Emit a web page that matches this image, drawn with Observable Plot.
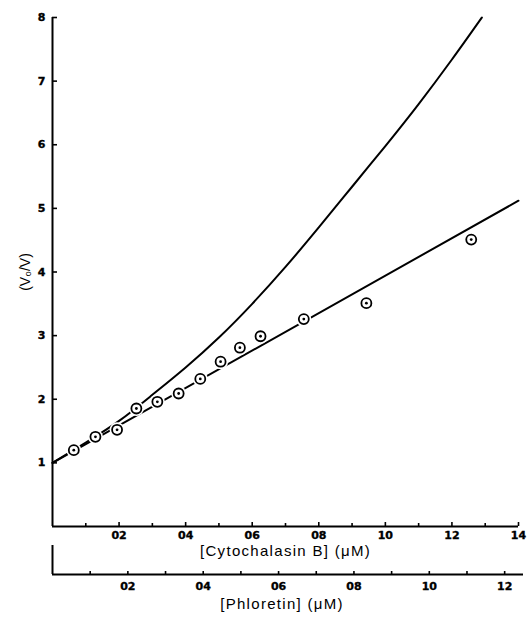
<!DOCTYPE html>
<html><head><meta charset="utf-8">
<script src="https://cdn.jsdelivr.net/npm/d3@7"></script>
<script src="https://cdn.jsdelivr.net/npm/@observablehq/plot@0.6"></script>
<style>
body{margin:0;background:#fff;}
#wrap{position:relative;width:529px;height:624px;background:#fff;}
#wrap svg{position:absolute;left:0;}
</style></head><body><div id="wrap"></div>
<script>
// Data points: [Cytochalasin B] (µM) vs Vo/V
const cytoConc = [0.064, 0.129, 0.194, 0.252, 0.315, 0.379, 0.444, 0.505, 0.563, 0.625, 0.755, 0.943, 1.258];
const ratio    = [1.20, 1.41, 1.52, 1.855, 1.96, 2.09, 2.32, 2.59, 2.81, 2.99, 3.26, 3.51, 4.51];
// Straight fitted line
const lineConc  = [0, 1.4];
const lineRatio = [1.0, 5.12];
// Upper curve
const curveConc  = [0, 0.1, 0.2, 0.3, 0.4, 0.5, 0.6, 0.7, 0.8, 0.9, 1.0, 1.1, 1.2, 1.29];
const curveRatio = [1.0, 1.32, 1.66, 2.07, 2.5, 2.97, 3.5, 4.08, 4.7, 5.34, 5.98, 6.64, 7.34, 8.0];
// Axes
const yTicks = [1, 2, 3, 4, 5, 6, 7, 8];
const cytoMajor  = [0.2, 0.4, 0.6, 0.8, 1.0, 1.2, 1.4];
const cytoLabels = ["02", "04", "06", "08", "10", "12", "14"];
const cytoMinor  = [0.1, 0.3, 0.5, 0.7, 0.9, 1.1, 1.3];
const phlMajor   = [0.2, 0.4, 0.6, 0.8, 1.0, 1.2];
const phlLabels  = ["02", "04", "06", "08", "10", "12"];
const phlMinor   = [0.1, 0.3, 0.5, 0.7, 0.9, 1.1];
const yLabel = "(V\u2080/V)";
const cytoTitle = "[Cytochalasin B] (\u03bcM)";
const phlTitle = "[Phloretin] (\u03bcM)";

const points = cytoConc.map((x, i) => ({x, y: ratio[i]}));
const line = lineConc.map((x, i) => ({x, y: lineRatio[i]}));
const curve = curveConc.map((x, i) => ({x, y: curveRatio[i]}));

const ink = "#000";
const font = "Liberation Sans, Arial, Helvetica, sans-serif";
const tickStyle = {fontFamily: "DejaVu Sans, Liberation Sans, sans-serif", fontSize: 11, fontWeight: "bold", fill: ink, stroke: ink, strokeWidth: 0.35};

const main = Plot.plot({
  width: 529, height: 560,
  marginTop: 17, marginBottom: 34, marginLeft: 52, marginRight: 11,
  x: {domain: [0, 1.4], label: null},
  y: {domain: [0, 8], label: null},
  style: {fontFamily: font, color: ink, background: "transparent"},
  marks: [
    Plot.line(curve, {x: "x", y: "y", curve: "natural", stroke: ink, strokeWidth: 2}),
    Plot.line(line, {x: "x", y: "y", stroke: ink, strokeWidth: 2}),
    Plot.dot(points, {x: "x", y: "y", r: 7.5, fill: "white", stroke: "none"}),
    Plot.dot(points, {x: "x", y: "y", r: 5, fill: "white", stroke: ink, strokeWidth: 1.8}),
    Plot.dot(points, {x: "x", y: "y", r: 1.4, fill: ink, stroke: "none"}),
    Plot.ruleX([0], {stroke: ink, strokeWidth: 2}),
    Plot.ruleY([0], {stroke: ink, strokeWidth: 2}),
    Plot.axisY({ticks: yTicks, tickSize: -5, tickPadding: 12, text: null, strokeWidth: 1.6, label: null}),
    Plot.axisY({ticks: yTicks, tickSize: 0, tickPadding: 7, tickFormat: d => String(d), label: null, ...tickStyle, strokeWidth: 0.35}),
    Plot.axisX({ticks: cytoMajor, tickFormat: () => "", tickSize: -4, strokeWidth: 1.6, label: null}),
    Plot.axisX({ticks: cytoMajor, tickFormat: d => cytoLabels[cytoMajor.indexOf(d)], tickSize: 0, tickPadding: 5, label: null, ...tickStyle}),
    Plot.axisX({ticks: cytoMinor, tickFormat: () => "", tickSize: -3, strokeWidth: 1.6, label: null}),
    Plot.text([yLabel], {text: d => d, frameAnchor: "left", dx: -27, rotate: -90, textAnchor: "middle", lineAnchor: "middle", fontSize: 14, fill: ink}),
    Plot.text([cytoTitle], {text: d => d, frameAnchor: "bottom", dy: 25, textAnchor: "middle", lineAnchor: "middle", fontSize: 15, fill: ink})
  ]
});
main.style.top = "0px";

const second = Plot.plot({
  width: 529, height: 84,
  marginTop: 5, marginBottom: 50, marginLeft: 52, marginRight: 6,
  x: {domain: [0, 1.25], label: null},
  y: {domain: [0, 1], axis: null},
  style: {fontFamily: font, color: ink, background: "transparent"},
  marks: [
    Plot.ruleY([0], {stroke: ink, strokeWidth: 2}),
    Plot.ruleX([0], {y1: 0, y2: 1, stroke: ink, strokeWidth: 2}),
    Plot.axisX({ticks: phlMajor, tickFormat: () => "", tickSize: -3, strokeWidth: 1.6, label: null}),
    Plot.axisX({ticks: phlMajor, tickFormat: d => phlLabels[phlMajor.indexOf(d)], tickSize: 0, tickPadding: 8, label: null, ...tickStyle}),
    Plot.axisX({ticks: phlMinor, tickFormat: () => "", tickSize: -3, strokeWidth: 1.6, label: null}),
    Plot.text([phlTitle], {text: d => d, frameAnchor: "bottom", dy: 30, dx: -6, textAnchor: "middle", lineAnchor: "middle", fontSize: 15, fill: ink})
  ]
});
second.style.top = "540px";

const wrap = document.getElementById("wrap");
wrap.appendChild(main);
wrap.appendChild(second);
// title letter spacing; force heavy black tick labels
const tickTexts = new Set([...cytoLabels, ...phlLabels, ...yTicks.map(String)]);
wrap.querySelectorAll("text").forEach(t => {
  const s = t.textContent;
  if (s === cytoTitle || s === phlTitle) t.setAttribute("letter-spacing", "1.3");
  if (tickTexts.has(s)) {
    t.setAttribute("font-weight", "bold");
    t.setAttribute("font-size", "11");
    t.setAttribute("fill", ink);
    t.setAttribute("stroke", ink);
    t.setAttribute("stroke-width", "0.35");
    t.style.fontFamily = "DejaVu Sans, Liberation Sans, sans-serif";
  }
});
</script></body></html>
